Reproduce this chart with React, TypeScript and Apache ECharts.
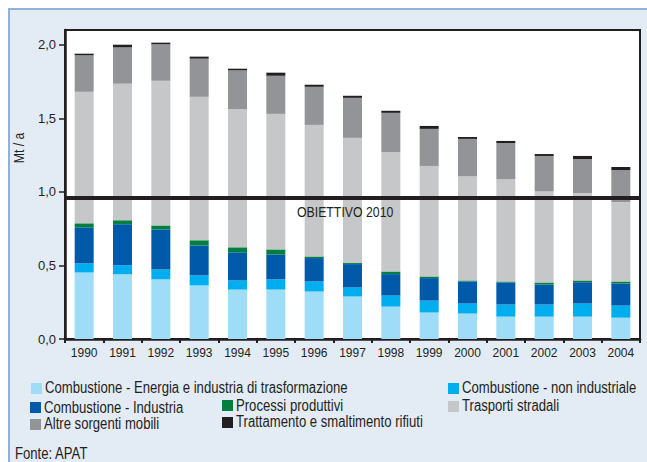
import React, { useEffect, useRef } from "react";
import * as echarts from "echarts";

const years = ["1990", "1991", "1992", "1993", "1994", "1995", "1996", "1997", "1998", "1999", "2000", "2001", "2002", "2003", "2004"];
const energia = [0.452, 0.441, 0.405, 0.364, 0.336, 0.336, 0.323, 0.289, 0.220, 0.180, 0.173, 0.152, 0.152, 0.152, 0.145];
const nonIndustriale = [0.062, 0.061, 0.068, 0.068, 0.062, 0.069, 0.068, 0.061, 0.075, 0.081, 0.068, 0.082, 0.082, 0.089, 0.082];
const industria = [0.245, 0.278, 0.272, 0.204, 0.191, 0.170, 0.159, 0.159, 0.146, 0.153, 0.150, 0.150, 0.136, 0.145, 0.150];
const processi = [0.027, 0.027, 0.027, 0.035, 0.034, 0.034, 0.011, 0.007, 0.018, 0.011, 0.007, 0.007, 0.014, 0.012, 0.014];
const trasporti = [0.894, 0.928, 0.983, 0.975, 0.940, 0.921, 0.894, 0.851, 0.812, 0.751, 0.709, 0.696, 0.621, 0.593, 0.539];
const altre = [0.248, 0.247, 0.248, 0.259, 0.263, 0.259, 0.259, 0.272, 0.266, 0.252, 0.253, 0.245, 0.239, 0.232, 0.218];
const rifiuti = [0.011, 0.018, 0.011, 0.014, 0.011, 0.021, 0.014, 0.014, 0.014, 0.020, 0.013, 0.014, 0.013, 0.021, 0.021];
const yTicks = [0, 0.5, 1, 1.5, 2];
const obiettivo = 0.964;

const seriesNames = [
  "Combustione - Energia e industria di trasformazione",
  "Combustione - non industriale",
  "Combustione - Industria",
  "Processi produttivi",
  "Trasporti stradali",
  "Altre sorgenti mobili",
  "Trattamento e smaltimento rifiuti",
];
const seriesData = [energia, nonIndustriale, industria, processi, trasporti, altre, rifiuti];
const colors = ["#9edcf7", "#00adee", "#0059a9", "#007f3e", "#c6c7c9", "#929497", "#231f20"];

// legend placement (swatch x, swatch y, text center y)
const legendPos = [
  [31, 383, 388],
  [448, 383, 388],
  [30, 402, 408],
  [222, 400, 406],
  [448, 401, 406],
  [30, 419, 424],
  [222, 417, 422],
];

const FONT = "'Liberation Sans', Arial, sans-serif";
const NARROW = 0.82;
const TXT = "#231f20";

export default function App() {
  const ref = useRef<HTMLDivElement>(null);
  useEffect(() => {
    if (!ref.current) return;
    const chart = echarts.init(ref.current, null, { renderer: "svg" });
    const series: any[] = seriesNames.map((name, i) => ({
      name,
      type: "bar",
      stack: "total",
      data: seriesData[i],
      barWidth: 19,
      itemStyle: { color: colors[i] },
      z: 2,
    }));
    series[series.length - 1].markLine = {
      silent: true,
      symbol: "none",
      label: { show: false },
      lineStyle: { color: "#231f20", width: 4, type: "solid" },
      data: [{ yAxis: obiettivo }],
      z: 5,
    };
    const legendGraphics: any[] = [];
    seriesNames.forEach((name, i) => {
      const [sx, sy, ty] = legendPos[i];
      legendGraphics.push({
        type: "rect",
        shape: { x: sx, y: sy, width: 11, height: 11 },
        style: { fill: colors[i] },
      });
      legendGraphics.push({
        type: "text",
        x: sx + 14,
        y: ty,
        scaleX: NARROW,
        style: { text: name, font: `16px ${FONT}`, fill: TXT, verticalAlign: "middle" },
      });
    });
    chart.setOption({
      animation: false,
      backgroundColor: "transparent",
      grid: {
        left: 65,
        top: 30,
        right: 7,
        bottom: 123,
        show: true,
        backgroundColor: "#ffffff",
        borderColor: "#231f20",
        borderWidth: 2,
      },
      xAxis: {
        type: "category",
        data: years,
        axisLine: { lineStyle: { color: "#231f20", width: 2.5 } },
        axisTick: { show: true, length: 4, lineStyle: { color: "#231f20", width: 2 } },
        axisLabel: { color: TXT, fontFamily: FONT, fontSize: 12, margin: 8, interval: 0 },
      },
      yAxis: {
        type: "value",
        min: 0,
        max: 2.1,
        interval: 0.5,
        splitLine: { show: false },
        axisLine: { show: true, lineStyle: { color: "#231f20", width: 2.5 } },
        axisTick: { show: true, length: 6, customValues: yTicks, lineStyle: { color: "#231f20", width: 1.5 } },
        axisLabel: {
          color: TXT,
          fontFamily: FONT,
          fontSize: 13,
          margin: 9,
          customValues: yTicks,
          formatter: (v: number) => v.toFixed(1).replace(".", ","),
        },
      },
      series,
      graphic: [
        {
          type: "text",
          x: 19,
          y: 148,
          rotation: Math.PI / 2,
          scaleX: NARROW,
          style: { text: "Mt / a", font: `15px ${FONT}`, fill: TXT, align: "center", verticalAlign: "middle" },
        },
        {
          type: "text",
          x: 297,
          y: 212,
          z: 10,
          scaleX: NARROW,
          style: { text: "OBIETTIVO 2010", font: `15px ${FONT}`, fill: TXT, verticalAlign: "middle" },
        },
        ...legendGraphics,
        {
          type: "text",
          x: 15,
          y: 454,
          scaleX: NARROW,
          style: { text: "Fonte: APAT", font: `16px ${FONT}`, fill: TXT, verticalAlign: "middle" },
        },
      ],
    });
    return () => chart.dispose();
  }, []);
  return (
    <div style={{ position: "fixed", left: 0, top: 0, width: 647, height: 462, background: "#ffffff", overflow: "hidden" }}>
      <div
        style={{
          position: "absolute",
          left: 8,
          top: 8,
          width: 639,
          height: 454,
          background: "#e3ebf5",
          borderTop: "2px solid #8fb1dc",
          borderLeft: "2px solid #8fb1dc",
          boxSizing: "border-box",
        }}
      />
      <div ref={ref} style={{ position: "absolute", left: 0, top: 0, width: 647, height: 462 }} />
    </div>
  );
}
